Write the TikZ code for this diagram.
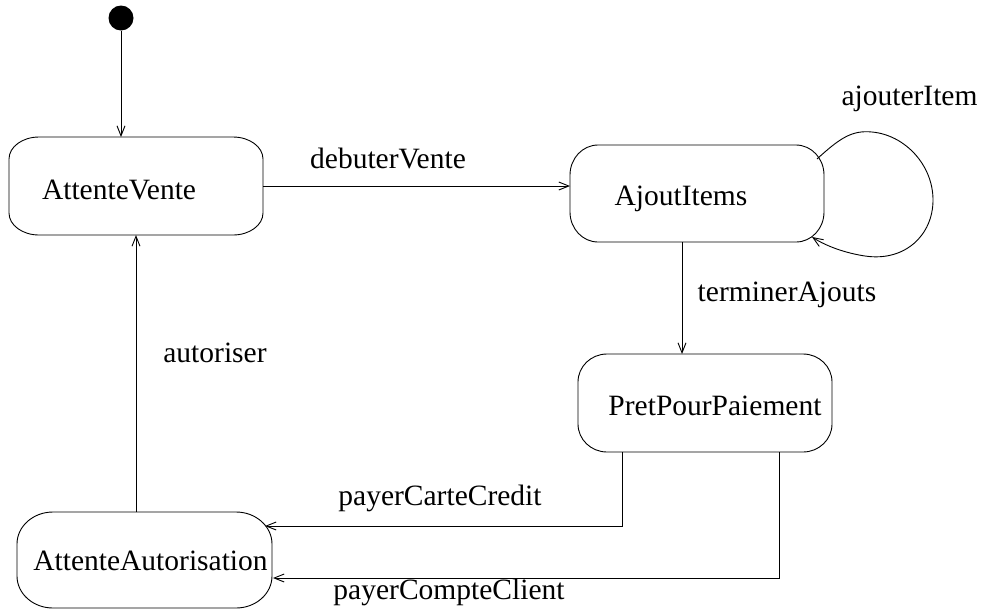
\documentclass[tikz,border=0pt]{standalone}
\usepackage{fontspec}
\setmainfont{Liberation Serif}
\usetikzlibrary{arrows.meta,calc}

% outline of a state: rounded rectangle with elliptical corners
% #1 node name, #2 horizontal corner radius, #3 vertical corner radius
\newcommand\stateoutline[3]{%
  \draw[line] ([xshift=#2]#1.north west) -- ([xshift=-#2]#1.north east)
    arc[start angle=90,end angle=0,x radius=#2,y radius=#3]
    -- ([yshift=#3]#1.south east)
    arc[start angle=0,end angle=-90,x radius=#2,y radius=#3]
    -- ([xshift=#2]#1.south west)
    arc[start angle=270,end angle=180,x radius=#2,y radius=#3]
    -- ([yshift=-#3]#1.north west)
    arc[start angle=180,end angle=90,x radius=#2,y radius=#3] -- cycle;}

\begin{document}
\begin{tikzpicture}[x=1pt,y=-1pt,
  line/.style={line width=0.9pt,black},
  arr/.style={line,-{Straight Barb[length=10pt,width=8pt,line width=0.9pt]}},
  statebox/.style={draw=none,inner sep=0pt,outer sep=0pt},
  txt/.style={inner sep=0pt,anchor=base,font=\fontsize{29.5}{32}\selectfont}]

\useasboundingbox (0,0) rectangle (982,611);

% states
\node[statebox,minimum width=254pt,minimum height=98pt] (av) at (136,186) {};
\node[statebox,minimum width=254pt,minimum height=97pt] (ai) at (697,193.5) {};
\node[statebox,minimum width=254pt,minimum height=98pt] (pp) at (705,403) {};
\node[statebox,minimum width=255pt,minimum height=96pt] (aa) at (144.5,560) {};

\stateoutline{av}{30pt}{22pt}
\stateoutline{ai}{28pt}{30pt}
\stateoutline{pp}{29pt}{28pt}
\stateoutline{aa}{36pt}{32pt}

\node[txt] (avt) at (119,199) {AttenteVente};
\node[txt] (ait) at (681,205) {AjoutItems};
\node[txt] (ppt) at (715,415) {PretPourPaiement};
\node[txt] (aat) at (150.5,570) {AttenteAutorisation};

% initial state
\node[circle,fill=black,inner sep=0pt,minimum size=25pt] (init) at (121,18) {};

% transitions
\draw[arr] (init) -- (av.north -| init);
\draw[arr] (av.east) -- (av.east -| ai.west);
\node[txt] (l1) at (388,168) {debuterVente};

\coordinate (loopout) at ([xshift=-7pt,yshift=-14pt]ai.north east);
\coordinate (loopin) at ([xshift=-12pt,yshift=5pt]ai.south east);
\draw[arr] (loopout) .. controls (840,138) and (852,130) .. (872,132)
  .. controls (905,135) and (933,165) .. (933,200)
  .. controls (933,235) and (905,262) .. (865,256)
  .. controls (845,253) and (826,246) .. (loopin);
\node[txt] (l2) at (909.5,105) {ajouterItem};

\draw[arr] ([xshift=-15pt]ai.south) -- ([xshift=-15pt]ai.south |- pp.north);
\node[txt] (l3) at (787,301) {terminerAjouts};

\coordinate (aain1) at (265,526);
\coordinate (aain2) at (273,578);
\draw[arr] ([xshift=-83pt]pp.south) |- (aain1);
\node[txt] (l4) at (440,505) {payerCarteCredit};
\draw[arr] ([xshift=74pt]pp.south) |- (aain2);
\node[txt] (l5) at (449,599) {payerCompteClient};

\draw[arr] ([xshift=-8.5pt]aa.north) -- ([xshift=-8.5pt]aa.north |- av.south);
\node[txt] (l6) at (215,362) {autoriser};

\end{tikzpicture}
\end{document}
